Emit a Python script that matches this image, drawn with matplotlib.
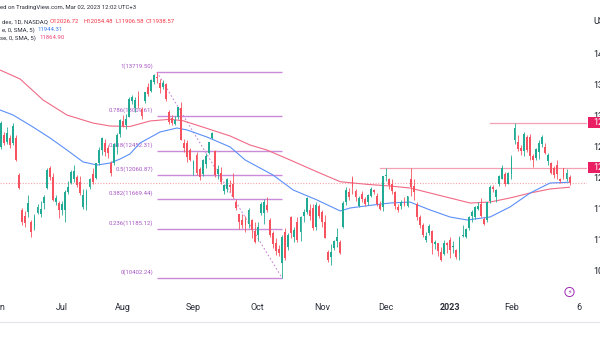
import matplotlib
matplotlib.use('Agg')
import matplotlib.pyplot as plt
import matplotlib.transforms as mtransforms
from matplotlib.patches import Rectangle, Circle
from matplotlib.lines import Line2D
import numpy as np
import pandas as pd

plt.rcParams['font.family'] = ['Roboto', 'DejaVu Sans']

# ---------------- data ----------------
holidays = ['2022-06-20', '2022-07-04', '2022-09-05', '2022-11-24', '2022-12-26',
            '2023-01-02', '2023-01-16', '2023-02-20']
start_date, end_date = '2022-06-01', '2023-03-06'

opens = [12600, 12510, 12700, 12600, 12660, 12580, 12650, 12060, 11500, 11400,
         11460, 11300, 11210, 11450, 11430, 11610, 11850, 12170, 12030, 11630,
         11610, 11500, 11500, 11790, 11930, 11990, 12030, 11950, 11550, 11580,
         11860, 12080, 12020, 12260, 12460, 12580, 12500, 12250, 12260, 12520,
         12720, 12930, 12860, 13000, 13250, 13140, 13330, 13130, 13250, 13470,
         13420, 13560, 13640, 13540, 13470, 13530, 13080, 12980, 12890, 12990,
         13140, 12570, 12570, 12460, 12150, 12380, 12150, 12070, 12240, 12420,
         12660, 12440, 12070, 12100, 11810, 11840, 11900, 11920, 11630, 11430,
         11330, 11330, 11280, 11340, 11160, 11100, 11450, 11450, 11580, 11340,
         11120, 10960, 10870, 10640, 11140, 10900, 11380, 11060, 11300, 11150,
         11400, 11460, 11500, 11530, 11220, 11560, 11470, 11300, 10820, 10740,
         10880, 11000, 10990, 11230, 11620, 11790, 12010, 11800, 11560, 11760,
         11670, 11620, 11730, 11820, 11730, 11600, 11550, 12040, 12000, 11920,
         11780, 11540, 11560, 11620, 11570, 11990, 11880, 11600, 11380, 11260,
         11020, 11130, 11160, 10950, 10960, 10820, 10790, 10960, 11010, 10900,
         10860, 10800, 11080, 11070, 11210, 11400, 11380, 11520, 11600, 11350,
         11330, 11640, 11860, 11700, 11920, 12000, 12080, 11920, 12080, 12620,
         12600, 12490, 12440, 12680, 12680, 12360, 12330, 12430, 12560, 12510,
         12280, 12250, 12170, 12220, 12000, 12170, 11990, 12026.72]
highs = [12780, 12930, 12750, 12830, 12700, 12900, 12700, 12090, 11530, 11480,
         11740, 11330, 11440, 11600, 11640, 11740, 12175, 12200, 12090, 11740,
         11650, 11640, 11820, 11960, 12140, 12230, 12060, 12040, 11830, 11830,
         12010, 12180, 12260, 12510, 12670, 12640, 12540, 12290, 12580, 12730,
         12970, 13030, 13040, 13320, 13350, 13310, 13420, 13150, 13400, 13550,
         13600, 13690, 13719.5, 13600, 13590, 13540, 13100, 13030, 13010, 13160,
         13230, 12640, 12620, 12500, 12310, 12430, 12190, 12320, 12420, 12600,
         12760, 12460, 12220, 12190, 11920, 12010, 11980, 12090, 11680, 11440,
         11440, 11400, 11530, 11350, 11300, 11310, 11620, 11680, 11700, 11370,
         11160, 11040, 10930, 11100, 11210, 11120, 11400, 11220, 11380, 11400,
         11520, 11710, 11590, 11600, 11620, 11600, 11500, 11420, 10860, 10950,
         11020, 11210, 11010, 11640, 11870, 11850, 12050, 11830, 11720, 11800,
         11700, 11750, 11860, 11840, 11770, 11640, 12050, 12179, 12020, 11990,
         11800, 11600, 11660, 11700, 11730, 12175, 12000, 11630, 11420, 11290,
         11150, 11280, 11170, 11010, 10970, 10900, 11010, 10980, 11070, 11000,
         10870, 11080, 11250, 11200, 11400, 11500, 11560, 11620, 11690, 11380,
         11630, 11900, 11900, 11830, 12060, 12230, 12110, 12110, 12380, 12903,
         12710, 12540, 12760, 12700, 12720, 12400, 12490, 12620, 12710, 12580,
         12420, 12270, 12200, 12300, 12020, 12180, 12150, 12054.48]
lows = [12440, 12480, 12540, 12560, 12500, 12540, 12280, 11830, 11260, 11230,
        11380, 11060, 11170, 11430, 11390, 11520, 11840, 11980, 11640, 11580,
        11370, 11410, 11300, 11760, 11910, 11950, 11870, 11740, 11520, 11500,
        11830, 11920, 11990, 12230, 12390, 12360, 12340, 12050, 12230, 12400,
        12680, 12840, 12800, 12990, 13200, 13080, 13140, 12960, 13220, 13330,
        13400, 13520, 13540, 13380, 13440, 13250, 12890, 12870, 12860, 12960,
        12620, 12430, 12270, 12290, 12060, 12060, 11980, 12040, 12180, 12400,
        12640, 12030, 11990, 11920, 11760, 11790, 11780, 11690, 11500, 11190,
        11200, 11150, 11200, 11050, 10960, 11000, 11420, 11280, 11460, 11060,
        10880, 10780, 10760, 10402.24, 10700, 10860, 11050, 10980, 10990, 11000,
        11300, 11430, 11330, 11170, 11180, 11370, 11230, 11040, 10660, 10620,
        10850, 10900, 10790, 11200, 11580, 11660, 11760, 11650, 11540, 11620,
        11570, 11580, 11700, 11750, 11570, 11490, 11480, 11960, 11830, 11760,
        11510, 11460, 11510, 11560, 11550, 11720, 11660, 11340, 11200, 11060,
        10990, 11100, 10790, 10870, 10760, 10670, 10770, 10800, 10730, 10800,
        10710, 10690, 11070, 11040, 11180, 11300, 11350, 11490, 11380, 11250,
        11300, 11610, 11790, 11620, 11880, 11990, 11890, 11910, 11990, 12560,
        12440, 12380, 12370, 12430, 12300, 12190, 12300, 12320, 12510, 12400,
        12220, 12080, 12010, 12000, 11940, 11990, 11960, 11906.58]
closes = [12540, 12900, 12570, 12740, 12545, 12850, 12300, 11850, 11305, 11290,
          11610, 11140, 11385, 11545, 11520, 11700, 12140, 12030, 11660, 11690,
          11500, 11600, 11790, 11870, 12110, 12120, 11900, 11770, 11740, 11800,
          11990, 11950, 12250, 12460, 12650, 12430, 12410, 12095, 12560, 12700,
          12950, 12850, 12960, 13290, 13320, 13270, 13170, 13010, 13390, 13370,
          13590, 13670, 13620, 13460, 13540, 13280, 12920, 12900, 12950, 13150,
          12630, 12490, 12350, 12300, 12290, 12100, 12030, 12300, 12370, 12590,
          12740, 12060, 12150, 11950, 11900, 11990, 11870, 11700, 11530, 11310,
          11250, 11260, 11500, 11180, 10980, 11220, 11600, 11620, 11500, 11100,
          10950, 10830, 10800, 11060, 10730, 11100, 11130, 11170, 11020, 11380,
          11460, 11690, 11400, 11210, 11580, 11400, 11300, 11050, 10690, 10820,
          11000, 11070, 10810, 11610, 11820, 11710, 11870, 11700, 11690, 11680,
          11590, 11740, 11830, 11780, 11600, 11520, 12040, 12060, 11900, 11800,
          11560, 11500, 11630, 11580, 11720, 11860, 11780, 11380, 11250, 11090,
          11080, 11240, 10960, 10990, 10830, 10690, 10970, 10930, 10860, 10920,
          10740, 11040, 11100, 11190, 11390, 11460, 11540, 11560, 11400, 11280,
          11620, 11870, 11840, 11820, 12040, 12170, 11910, 12100, 12340, 12820,
          12480, 12440, 12720, 12460, 12360, 12300, 12480, 12580, 12680, 12420,
          12380, 12090, 12060, 12080, 11960, 12030, 12090, 11938.57]

# moving averages (trading-day position, price)
sma_slow_days = [0.7, 7.3, 14.8, 22.6, 31.1, 36.7, 43.2, 49.8, 56.3, 60.6, 68.3, 76.0,
                 82.5, 88.0, 95.6, 104.3, 112.0, 120.7, 128.3, 134.8, 141.4, 147.9,
                 154.5, 161.0, 167.5, 174.1, 180.6, 187.0]
sma_slow_vals = [13752, 13607, 13269, 13027, 12898, 12850, 12842, 12931, 12958, 12935,
                 12813, 12689, 12544, 12464, 12303, 12114, 11953, 11911, 11884, 11852,
                 11771, 11691, 11610, 11626, 11691, 11771, 11836, 11864.90]
sma_fast_days = [0.7, 5.0, 11.5, 17.1, 22.6, 27.9, 32.5, 36.7, 40.0, 43.2, 46.5, 53.1,
                 58.6, 61.9, 68.4, 76.0, 80.9, 90.0, 96.6, 104.4, 112.0, 115.2, 122.7,
                 128.3, 134.8, 141.4, 147.9, 153.5, 161.0, 167.5, 174.1, 180.6, 187.0]
sma_fast_vals = [13108, 13027, 12834, 12657, 12464, 12271, 12222, 12254, 12319, 12399,
                 12576, 12754, 12818, 12786, 12673, 12512, 12303, 12061, 11820, 11659,
                 11482, 11530, 11578, 11610, 11626, 11498, 11385, 11337, 11385, 11546,
                 11771, 11932, 11944.31]

fib_ratios = ['1', '0.786', '0.618', '0.5', '0.382', '0.236', '0']
fib_prices = [13719.50, 13009.61, 12452.31, 12060.87, 11669.44, 11185.12, 10402.24]
fib_start, fib_end = '2022-08-16', '2022-10-13'

ray_prices = [12903.0, 12179.0]
ray_starts = ['2023-01-23', '2022-11-29']

tick_dates = ['2022-06-01', '2022-07-01', '2022-08-01', '2022-09-01', '2022-10-03',
              '2022-11-01', '2022-12-01', '2023-01-03', '2023-02-01', '2023-03-06']
tick_labels = ['Jun', 'Jul', 'Aug', 'Sep', 'Oct', 'Nov', 'Dec', '2023', 'Feb', '6']
price_ticks = [10500, 11000, 11500, 12000, 12500, 13000, 13500, 14000]

# ---------------- styling ----------------
GREEN = '#22ab94'
RED = '#f7525f'
FIB = '#c98bd9'
FIB_TXT = '#a855c4'
RAY = '#f6a0b6'
BOX = '#e91e63'
BLUE = '#5b8ff9'
PINK = '#f06a86'
TXT = '#131722'

W, H = 600, 338
fig = plt.figure(figsize=(W / 100, H / 100), dpi=100)
fig.patch.set_facecolor('white')
PANE_BOTTOM, PANE_RIGHT = 290, 587
ax = fig.add_axes([0, 1 - PANE_BOTTOM / H, PANE_RIGHT / W, PANE_BOTTOM / H])
ax.set_xlim(0.72, 192.7)
ax.set_ylim(10209.7, 14878.7)
ax.axis('off')

cal = pd.bdate_range(start_date, end_date, freq='C', holidays=holidays)
pos = {d.strftime('%Y-%m-%d'): i for i, d in enumerate(cal)}

o = np.array(opens, float); h = np.array(highs, float)
l = np.array(lows, float); c = np.array(closes, float)
idx = np.arange(len(c))
up = c >= o
cols = np.where(up, GREEN, RED)

# current price dotted line
ax.axhline(c[-1], color='#f5a3aa', lw=0.8, ls=(0, (1, 1.5)), zorder=1)

# fibonacci
fs, fe = pos[fib_start], pos[fib_end]
for r, p in zip(fib_ratios, fib_prices):
    ax.plot([fs, fe], [p, p], color=FIB, lw=1.0, zorder=2, solid_capstyle='butt')
    tr = mtransforms.offset_copy(ax.transData, fig=fig, x=-3.5, y=6, units='dots')
    ax.text(fs, p, f'{r}({p:.2f})', transform=tr, ha='right', va='center',
            fontsize=4.3, color=FIB_TXT, zorder=2)
ax.plot([fs, fe], [fib_prices[0], fib_prices[-1]], color=FIB, lw=0.8,
        ls=(0, (1.5, 2)), zorder=2)

# rays
for p, s in zip(ray_prices, ray_starts):
    ax.plot([pos[s], 192.7], [p, p], color=RAY, lw=0.9, zorder=2)

# moving averages
ax.plot(sma_slow_days, sma_slow_vals, color=PINK, lw=0.8, zorder=3)
ax.plot(sma_fast_days, sma_fast_vals, color=BLUE, lw=0.8, zorder=3)

# candles
ax.vlines(idx, l, h, colors=cols, lw=0.6, zorder=4)
body_lo = np.minimum(o, c)
body_h = np.maximum(np.abs(c - o), 18)
ax.bar(idx, body_h, bottom=body_lo, width=0.62, color=cols, lw=0, zorder=5)

# price scale
bt = mtransforms.blended_transform_factory(fig.transFigure, ax.transData)
for p in price_ticks:
    ax.text(593 / W, p, f'{p:.2f}', transform=bt, ha='left', va='center',
            fontsize=6.5, color=TXT, clip_on=False)
for p in ray_prices:
    ax.add_patch(Rectangle((587.7 / W, p - 5.5 * 16.1), 0.05, 11 * 16.1,
                           transform=bt, fc=BOX, ec='none', clip_on=False, zorder=10))
    ax.text(593 / W, p, f'{p:.2f}', transform=bt, ha='left', va='center',
            fontsize=6.5, color='white', clip_on=False, zorder=11)
fig.text(593 / W, 1 - 22 / H, 'USD', ha='left', va='center', fontsize=6.5, color=TXT)

# time axis
for d, lab in zip(tick_dates, tick_labels):
    xf = (-2.2 + 3.057 * pos[d]) / W
    fig.text(xf, 1 - 308 / H, lab, ha='center', va='center', fontsize=6.5,
             color='#2a2e39', fontweight='bold' if lab == '2023' else 'normal')
fig.add_artist(Line2D([0, 1], [1 - 322 / H] * 2, transform=fig.transFigure,
                      color='#e0e3eb', lw=0.8))

# lightning icon
circ = Circle((569.5, H - 292), 4.6, transform=mtransforms.IdentityTransform(),
              fc='white', ec='#9c27b0', lw=0.7)
fig.add_artist(circ)
fig.text(569.5 / W, 1 - 292 / H, '\u26a1', ha='center', va='center', fontsize=4.5,
         color='#9c27b0', family='DejaVu Sans')

# header legend
def ftxt(x, y, s, color, size=4.3):
    fig.text(x / W, 1 - y / H, s, ha='left', va='center', fontsize=size, color=color)

ftxt(0.5, 7.3, 'ed on TradingView.com, Mar 02, 2023 12:02 UTC+3', '#2a2e39')
ftxt(1.7, 21.7, 'dex, 1D, NASDAQ', '#2a2e39')
ftxt(50, 21.7, f'O{opens[-1]:.2f}', '#f23645')
ftxt(83.3, 21.7, f'H{highs[-1]:.2f}', '#f23645')
ftxt(115, 21.7, f'L{lows[-1]:.2f}', '#f23645')
ftxt(145.7, 21.7, f'C{closes[-1]:.2f}', '#f23645')
ftxt(1.7, 29.8, 'e, 0, SMA, 5)', '#2a2e39')
ftxt(37.7, 29.8, f'{sma_fast_vals[-1]:.2f}', '#3d7bf5')
ftxt(0.0, 37.9, 'se, 0, SMA, 5)', '#2a2e39')
ftxt(39.3, 37.9, f'{sma_slow_vals[-1]:.2f}', '#f0467a')

fig.savefig('out.png', dpi=100, facecolor='white')
